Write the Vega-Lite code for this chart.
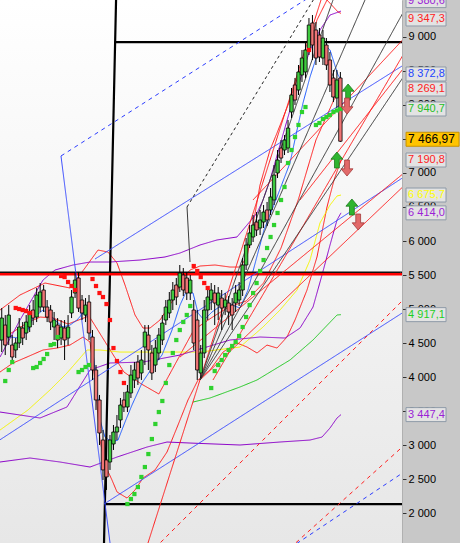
{
"$schema":"https://vega.github.io/schema/vega-lite/v6.json",
"width":402,"height":543,"padding":{"left":0,"top":0,"right":58,"bottom":0},"autosize":{"type":"none"},
"background":"#c8c8c8",
"config":{"view":{"stroke":null},"font":"Liberation Sans","scale":{"continuousPadding":0}},
"resolve":{"axis":{"y":"independent","x":"independent"}},
"datasets":{
"candles":[
{"i":0,"o":4544,"h":5014,"l":4367,"c":4867},{"i":1,"o":4764,"h":4911,"l":4323,"c":4470},{"i":2,"o":4588,"h":5058,"l":4470,"c":4911},{"i":3,"o":4470,"h":4617,"l":4220,"c":4294},{"i":4,"o":4397,"h":4573,"l":4279,"c":4500},{"i":5,"o":4500,"h":4867,"l":4426,"c":4735},{"i":6,"o":4720,"h":4808,"l":4470,"c":4573},{"i":7,"o":4647,"h":4911,"l":4544,"c":4808},{"i":8,"o":4735,"h":5058,"l":4661,"c":4941},{"i":9,"o":4985,"h":5132,"l":4764,"c":4867},
{"i":10,"o":4882,"h":5308,"l":4808,"c":5206},{"i":11,"o":5029,"h":5382,"l":4956,"c":5250},{"i":12,"o":5279,"h":5353,"l":4956,"c":5029},{"i":13,"o":5029,"h":5132,"l":4808,"c":4882},{"i":14,"o":4985,"h":5058,"l":4691,"c":4808},{"i":15,"o":4735,"h":4956,"l":4544,"c":4838},{"i":16,"o":4764,"h":4867,"l":4426,"c":4544},{"i":17,"o":4573,"h":4838,"l":4470,"c":4735},{"i":18,"o":4720,"h":4838,"l":4250,"c":4544},{"i":19,"o":4573,"h":4911,"l":4470,"c":4735},
{"i":20,"o":4941,"h":5279,"l":4867,"c":5176},{"i":21,"o":5235,"h":5544,"l":5161,"c":5426},{"i":22,"o":5456,"h":5544,"l":4956,"c":5014},{"i":23,"o":5132,"h":5206,"l":4838,"c":4941},{"i":24,"o":4911,"h":5161,"l":4808,"c":5058},{"i":25,"o":5103,"h":5206,"l":4544,"c":4647},{"i":26,"o":4588,"h":4691,"l":3956,"c":4103},{"i":27,"o":4103,"h":4176,"l":3515,"c":3662},{"i":28,"o":3662,"h":3736,"l":3000,"c":3177},{"i":29,"o":3074,"h":3221,"l":2486,"c":2633},
{"i":30,"o":2780,"h":2927,"l":2339,"c":2530},{"i":31,"o":2750,"h":3147,"l":2633,"c":3074},{"i":32,"o":3015,"h":3294,"l":2927,"c":3191},{"i":33,"o":3191,"h":3441,"l":3074,"c":3265},{"i":34,"o":3368,"h":3691,"l":3250,"c":3588},{"i":35,"o":3662,"h":3780,"l":3485,"c":3559},{"i":36,"o":3559,"h":3883,"l":3485,"c":3780},{"i":37,"o":3765,"h":4176,"l":3691,"c":4029},{"i":38,"o":3956,"h":4220,"l":3838,"c":4103},{"i":39,"o":4220,"h":4323,"l":3883,"c":3985},
{"i":40,"o":4059,"h":4397,"l":3956,"c":4250},{"i":41,"o":4441,"h":4764,"l":4176,"c":4661},{"i":42,"o":4617,"h":4764,"l":4103,"c":4397},{"i":43,"o":4353,"h":4470,"l":3956,"c":4059},{"i":44,"o":4176,"h":4544,"l":4073,"c":4426},{"i":45,"o":4353,"h":4720,"l":4250,"c":4617},{"i":46,"o":4544,"h":4911,"l":4470,"c":4794},{"i":47,"o":4838,"h":5132,"l":4764,"c":5029},{"i":48,"o":4941,"h":5250,"l":4867,"c":5132},{"i":49,"o":5132,"h":5397,"l":4985,"c":5279},
{"i":50,"o":5353,"h":5456,"l":5058,"c":5176},{"i":51,"o":5323,"h":5647,"l":5250,"c":5529},{"i":52,"o":5500,"h":5603,"l":5191,"c":5279},{"i":53,"o":5456,"h":5544,"l":5132,"c":5235},{"i":54,"o":5235,"h":5500,"l":5132,"c":5426},{"i":55,"o":4985,"h":5132,"l":4397,"c":4500},{"i":56,"o":4838,"h":4985,"l":3956,"c":4103},{"i":57,"o":4059,"h":4470,"l":3985,"c":4353},{"i":58,"o":4353,"h":5132,"l":4279,"c":4985},{"i":59,"o":4985,"h":5308,"l":4838,"c":5176},
{"i":60,"o":5132,"h":5382,"l":4985,"c":5279},{"i":61,"o":5235,"h":5353,"l":4764,"c":5088},{"i":62,"o":5058,"h":5323,"l":4838,"c":5235},{"i":63,"o":5161,"h":5279,"l":4691,"c":5014},{"i":64,"o":5029,"h":5235,"l":4911,"c":5132},{"i":65,"o":5088,"h":5191,"l":4764,"c":4956},{"i":66,"o":5058,"h":5161,"l":4691,"c":4911},{"i":67,"o":5088,"h":5353,"l":4956,"c":5235},{"i":68,"o":5132,"h":5397,"l":5044,"c":5279},{"i":69,"o":5279,"h":5750,"l":5191,"c":5647},
{"i":70,"o":5647,"h":6044,"l":5573,"c":5941},{"i":71,"o":5941,"h":6235,"l":5897,"c":6118},{"i":72,"o":6059,"h":6382,"l":5985,"c":6235},{"i":73,"o":6279,"h":6426,"l":6074,"c":6162},{"i":74,"o":6191,"h":6456,"l":6088,"c":6309},{"i":75,"o":6279,"h":6529,"l":6191,"c":6426},{"i":76,"o":6456,"h":6574,"l":6220,"c":6309},{"i":77,"o":6456,"h":6779,"l":6382,"c":6647},{"i":78,"o":6603,"h":7117,"l":6529,"c":6970},{"i":79,"o":7000,"h":7338,"l":6926,"c":7191},
{"i":80,"o":7367,"h":7485,"l":7147,"c":7220},{"i":81,"o":7338,"h":7558,"l":7264,"c":7485},{"i":82,"o":7367,"h":7779,"l":7294,"c":7661},{"i":83,"o":7897,"h":8250,"l":7808,"c":8147},{"i":84,"o":8294,"h":8397,"l":8000,"c":8073},{"i":85,"o":8220,"h":8588,"l":8147,"c":8485},{"i":86,"o":8441,"h":8809,"l":8338,"c":8691},{"i":87,"o":8485,"h":8926,"l":8397,"c":8809},{"i":88,"o":8809,"h":9279,"l":8735,"c":9176},{"i":89,"o":9206,"h":9323,"l":8662,"c":8882},
{"i":90,"o":9103,"h":9221,"l":8588,"c":8691},{"i":91,"o":9029,"h":9132,"l":8632,"c":8706},{"i":92,"o":8691,"h":9103,"l":8588,"c":8985},{"i":93,"o":8882,"h":8985,"l":8515,"c":8588},{"i":94,"o":8662,"h":8779,"l":8191,"c":8294},{"i":95,"o":8397,"h":8515,"l":8044,"c":8117},{"i":96,"o":8103,"h":8515,"l":7956,"c":8368},{"i":97,"o":8397,"h":8485,"l":7456,"c":7467}
],
"lines":[
{"s":"bbu","g":"red","i":-0.5,"v":4985},{"s":"bbu","g":"red","i":5.23,"v":5206},{"s":"bbu","g":"red","i":12.39,"v":5382},{"s":"bbu","g":"red","i":19.55,"v":5309},{"s":"bbu","g":"red","i":23.85,"v":5603},{"s":"bbu","g":"red","i":27.57,"v":5867},{"s":"bbu","g":"red","i":30.44,"v":5838},{"s":"bbu","g":"red","i":33.02,"v":5676},{"s":"bbu","g":"red","i":35.31,"v":5353},{"s":"bbu","g":"red","i":38.17,"v":4912},{"s":"bbu","g":"red","i":40.46,"v":4720},{"s":"bbu","g":"red","i":42.47,"v":4720},{"s":"bbu","g":"red","i":45.33,"v":4838},{"s":"bbu","g":"red","i":49.06,"v":5132},{"s":"bbu","g":"red","i":51.63,"v":5425},{"s":"bbu","g":"red","i":53.93,"v":5573},{"s":"bbu","g":"red","i":56.79,"v":5632},{"s":"bbu","g":"red","i":61.09,"v":5647},{"s":"bbu","g":"red","i":65.38,"v":5617},{"s":"bbu","g":"red","i":68.25,"v":5617},{"s":"bbu","g":"red","i":70.25,"v":5765},{"s":"bbu","g":"red","i":71.97,"v":6235},{"s":"bbu","g":"red","i":73.98,"v":6823},{"s":"bbu","g":"red","i":76.84,"v":7338},{"s":"bbu","g":"red","i":78.85,"v":7588},{"s":"bbu","g":"red","i":82.57,"v":8073},{"s":"bbu","g":"red","i":85.44,"v":8515},{"s":"bbu","g":"red","i":88.3,"v":8912},{"s":"bbu","g":"red","i":90.3,"v":9250},{"s":"bbu","g":"red","i":93.17,"v":9544},{"s":"bbu","g":"red","i":96.32,"v":9368},{"s":"bbu","g":"red","i":97.18,"v":9347},
{"s":"bbm","g":"red","i":-0.5,"v":4544},{"s":"bbm","g":"red","i":3.22,"v":4662},{"s":"bbm","g":"red","i":7.23,"v":4794},{"s":"bbm","g":"red","i":10.96,"v":4882},{"s":"bbm","g":"red","i":14.68,"v":4868},{"s":"bbm","g":"red","i":19,"v":4779},{"s":"bbm","g":"red","i":25,"v":4897},{"s":"bbm","g":"red","i":30,"v":4485},{"s":"bbm","g":"red","i":35,"v":4073},{"s":"bbm","g":"red","i":40,"v":3897},{"s":"bbm","g":"red","i":45,"v":3750},{"s":"bbm","g":"red","i":50,"v":4220},{"s":"bbm","g":"red","i":55,"v":4691},{"s":"bbm","g":"red","i":60,"v":4868},{"s":"bbm","g":"red","i":65,"v":5029},{"s":"bbm","g":"red","i":70,"v":5117},{"s":"bbm","g":"red","i":75,"v":5382},{"s":"bbm","g":"red","i":80,"v":5897},{"s":"bbm","g":"red","i":85,"v":6617},{"s":"bbm","g":"red","i":90,"v":7485},{"s":"bbm","g":"red","i":95,"v":8059},{"s":"bbm","g":"red","i":97.18,"v":8269},
{"s":"bbl","g":"red","i":-0.5,"v":4073},{"s":"bbl","g":"red","i":3.22,"v":4206},{"s":"bbl","g":"red","i":7.23,"v":4294},{"s":"bbl","g":"red","i":11.82,"v":4397},{"s":"bbl","g":"red","i":15.83,"v":4426},{"s":"bbl","g":"red","i":19.55,"v":4470},{"s":"bbl","g":"red","i":23.28,"v":4588},{"s":"bbl","g":"red","i":25.28,"v":4515},{"s":"bbl","g":"red","i":26.71,"v":3956},{"s":"bbl","g":"red","i":28.15,"v":3073},{"s":"bbl","g":"red","i":29.58,"v":2706},{"s":"bbl","g":"red","i":31.58,"v":2485},{"s":"bbl","g":"red","i":33.02,"v":2309},{"s":"bbl","g":"red","i":35.88,"v":2220},{"s":"bbl","g":"red","i":38.17,"v":2338},{"s":"bbl","g":"red","i":40.46,"v":2514},{"s":"bbl","g":"red","i":43.9,"v":2632},{"s":"bbl","g":"red","i":47.34,"v":2897},{"s":"bbl","g":"red","i":50.49,"v":3294},{"s":"bbl","g":"red","i":53.35,"v":3662},{"s":"bbl","g":"red","i":56.22,"v":3956},{"s":"bbl","g":"red","i":59.65,"v":4103},{"s":"bbl","g":"red","i":63.38,"v":4367},{"s":"bbl","g":"red","i":67.39,"v":4500},{"s":"bbl","g":"red","i":70.25,"v":4441},{"s":"bbl","g":"red","i":73.12,"v":4353},{"s":"bbl","g":"red","i":75.98,"v":4470},{"s":"bbl","g":"red","i":78.85,"v":4426},{"s":"bbl","g":"red","i":81.71,"v":4588},{"s":"bbl","g":"red","i":84,"v":4838},{"s":"bbl","g":"red","i":87.44,"v":5279},{"s":"bbl","g":"red","i":90.3,"v":5765},{"s":"bbl","g":"red","i":93.17,"v":6500},{"s":"bbl","g":"red","i":95.18,"v":6897},{"s":"bbl","g":"red","i":97.18,"v":7191},
{"s":"yel","g":"yellow","i":-0.5,"v":3220},{"s":"yel","g":"yellow","i":7.52,"v":3515},{"s":"yel","g":"yellow","i":13.82,"v":3809},{"s":"yel","g":"yellow","i":18.69,"v":4059},{"s":"yel","g":"yellow","i":22.42,"v":4279},{"s":"yel","g":"yellow","i":24.42,"v":4397},{"s":"yel","g":"yellow","i":28.15,"v":4397},{"s":"yel","g":"yellow","i":33.87,"v":4367},{"s":"yel","g":"yellow","i":45.33,"v":4367},{"s":"yel","g":"yellow","i":56.79,"v":4367},{"s":"yel","g":"yellow","i":68.25,"v":4441},{"s":"yel","g":"yellow","i":74.84,"v":4735},{"s":"yel","g":"yellow","i":79.71,"v":4985},{"s":"yel","g":"yellow","i":84.58,"v":5279},{"s":"yel","g":"yellow","i":88.3,"v":5720},{"s":"yel","g":"yellow","i":91.16,"v":6265},{"s":"yel","g":"yellow","i":94.03,"v":6529},{"s":"yel","g":"yellow","i":96.04,"v":6662},{"s":"yel","g":"yellow","i":97.18,"v":6676},
{"s":"grn","g":"green","i":54.79,"v":3632},{"s":"grn","g":"green","i":59.65,"v":3691},{"s":"grn","g":"green","i":68.25,"v":3853},{"s":"grn","g":"green","i":73.12,"v":3956},{"s":"grn","g":"green","i":82.57,"v":4250},{"s":"grn","g":"green","i":89.16,"v":4544},{"s":"grn","g":"green","i":96.04,"v":4912},{"s":"grn","g":"green","i":97.18,"v":4917},
{"s":"pu","g":"purple","i":-0.5,"v":4294},{"s":"pu","g":"purple","i":5.23,"v":4838},{"s":"pu","g":"purple","i":11.82,"v":5426},{"s":"pu","g":"purple","i":15.25,"v":5573},{"s":"pu","g":"purple","i":20.41,"v":5647},{"s":"pu","g":"purple","i":25.28,"v":5691},{"s":"pu","g":"purple","i":31.01,"v":5691},{"s":"pu","g":"purple","i":39.6,"v":5720},{"s":"pu","g":"purple","i":46.76,"v":5765},{"s":"pu","g":"purple","i":51.06,"v":5823},{"s":"pu","g":"purple","i":56.79,"v":5941},{"s":"pu","g":"purple","i":61.66,"v":6015},{"s":"pu","g":"purple","i":67.39,"v":6059},{"s":"pu","g":"purple","i":73.12,"v":6412},{"s":"pu","g":"purple","i":74.84,"v":6603},{"s":"pu","g":"purple","i":76.84,"v":6897},{"s":"pu","g":"purple","i":79.71,"v":7412},{"s":"pu","g":"purple","i":82.57,"v":7926},{"s":"pu","g":"purple","i":85.44,"v":8368},{"s":"pu","g":"purple","i":88.3,"v":8809},{"s":"pu","g":"purple","i":91.16,"v":9103},{"s":"pu","g":"purple","i":94.03,"v":9323},{"s":"pu","g":"purple","i":97.18,"v":9381},
{"s":"pm","g":"purple","i":-0.5,"v":3485},{"s":"pm","g":"purple","i":10.96,"v":3397},{"s":"pm","g":"purple","i":18.69,"v":3559},{"s":"pm","g":"purple","i":25.28,"v":4103},{"s":"pm","g":"purple","i":31.01,"v":4206},{"s":"pm","g":"purple","i":40.46,"v":4220},{"s":"pm","g":"purple","i":51.06,"v":4323},{"s":"pm","g":"purple","i":65.38,"v":4544},{"s":"pm","g":"purple","i":73.98,"v":4588},{"s":"pm","g":"purple","i":81.14,"v":4573},{"s":"pm","g":"purple","i":85.44,"v":4720},{"s":"pm","g":"purple","i":89.16,"v":5029},{"s":"pm","g":"purple","i":91.74,"v":5500},{"s":"pm","g":"purple","i":94.03,"v":5941},{"s":"pm","g":"purple","i":96.04,"v":6309},{"s":"pm","g":"purple","i":97.18,"v":6414},
{"s":"pl","g":"purple","i":-0.5,"v":2750},{"s":"pl","g":"purple","i":8.09,"v":2809},{"s":"pl","g":"purple","i":16.69,"v":2750},{"s":"pl","g":"purple","i":25.28,"v":2676},{"s":"pl","g":"purple","i":33.02,"v":2823},{"s":"pl","g":"purple","i":41.61,"v":2970},{"s":"pl","g":"purple","i":47.34,"v":3044},{"s":"pl","g":"purple","i":53.93,"v":3029},{"s":"pl","g":"purple","i":68.25,"v":3000},{"s":"pl","g":"purple","i":79.71,"v":3044},{"s":"pl","g":"purple","i":88.3,"v":3073},{"s":"pl","g":"purple","i":91.74,"v":3117},{"s":"pl","g":"purple","i":94.03,"v":3250},{"s":"pl","g":"purple","i":96.04,"v":3397},{"s":"pl","g":"purple","i":97.18,"v":3447},
{"s":"bma","g":"bma","i":-0.5,"v":4544},{"s":"bma","g":"bma","i":2.36,"v":4588},{"s":"bma","g":"bma","i":5.23,"v":4573},{"s":"bma","g":"bma","i":7.23,"v":4662},{"s":"bma","g":"bma","i":8.95,"v":4868},{"s":"bma","g":"bma","i":11.82,"v":4985},{"s":"bma","g":"bma","i":13.82,"v":4912},{"s":"bma","g":"bma","i":15.83,"v":4809},{"s":"bma","g":"bma","i":17.55,"v":4735},{"s":"bma","g":"bma","i":19.55,"v":4764},{"s":"bma","g":"bma","i":21.56,"v":4838},{"s":"bma","g":"bma","i":23.28,"v":4941},{"s":"bma","g":"bma","i":24.71,"v":4882},{"s":"bma","g":"bma","i":25.85,"v":4500},{"s":"bma","g":"bma","i":26.71,"v":4103},{"s":"bma","g":"bma","i":28.15,"v":3368},{"s":"bma","g":"bma","i":29.58,"v":3117},{"s":"bma","g":"bma","i":31.58,"v":3044},{"s":"bma","g":"bma","i":33.3,"v":3073},{"s":"bma","g":"bma","i":35.31,"v":3338},{"s":"bma","g":"bma","i":37.31,"v":3588},{"s":"bma","g":"bma","i":40.18,"v":3912},{"s":"bma","g":"bma","i":43.04,"v":4132},{"s":"bma","g":"bma","i":45.9,"v":4323},{"s":"bma","g":"bma","i":48.77,"v":4691},{"s":"bma","g":"bma","i":51.06,"v":5058},{"s":"bma","g":"bma","i":52.78,"v":5250},{"s":"bma","g":"bma","i":54.79,"v":5235},{"s":"bma","g":"bma","i":56.22,"v":4941},{"s":"bma","g":"bma","i":57.94,"v":4838},{"s":"bma","g":"bma","i":60.23,"v":4956},{"s":"bma","g":"bma","i":63.09,"v":5058},{"s":"bma","g":"bma","i":65.96,"v":5058},{"s":"bma","g":"bma","i":68.25,"v":5015},{"s":"bma","g":"bma","i":70.54,"v":5279},{"s":"bma","g":"bma","i":72.83,"v":5720},{"s":"bma","g":"bma","i":75.12,"v":6162},{"s":"bma","g":"bma","i":78.85,"v":6647},{"s":"bma","g":"bma","i":82.57,"v":7147},{"s":"bma","g":"bma","i":84.58,"v":7632},{"s":"bma","g":"bma","i":86.29,"v":8029},{"s":"bma","g":"bma","i":88.3,"v":8412},{"s":"bma","g":"bma","i":90.59,"v":8779},{"s":"bma","g":"bma","i":92.6,"v":8882},{"s":"bma","g":"bma","i":94.03,"v":8809},{"s":"bma","g":"bma","i":96.32,"v":8441},{"s":"bma","g":"bma","i":97.18,"v":8373},
{"s":"vk","g":"blackthick","i":32.81,"v":9691},{"s":"vk","g":"blackthick","i":29.23,"v":1412},
{"s":"htop","g":"blackthick","i":32.4,"v":8926},{"s":"htop","g":"blackthick","i":117,"v":8926},
{"s":"hbot","g":"blackthick","i":29.4,"v":2132},{"s":"hbot","g":"blackthick","i":117,"v":2132},
{"s":"hredk","g":"blackmid","i":-1,"v":5540},{"s":"hredk","g":"blackmid","i":117,"v":5540},
{"s":"hred","g":"redthick","i":-1,"v":5512},{"s":"hred","g":"redthick","i":117,"v":5512},
{"s":"bd1","g":"bluedash","i":16.97,"v":7250},{"s":"bd1","g":"bluedash","i":91.34,"v":9691},
{"s":"bs1","g":"blue","i":16.97,"v":7250},{"s":"bs1","g":"blue","i":31.38,"v":1412},
{"s":"b3","g":"blue","i":-1.93,"v":3029},{"s":"b3","g":"blue","i":116.95,"v":7000},
{"s":"b4","g":"blue","i":26.71,"v":5735},{"s":"b4","g":"blue","i":116.95,"v":8647},
{"s":"b5","g":"blue","i":29.29,"v":2132},{"s":"b5","g":"blue","i":116.95,"v":5015},
{"s":"bd2","g":"bluedash","i":82.57,"v":1485},{"s":"bd2","g":"bluedash","i":116.95,"v":2662},
{"s":"rd1","g":"reddash","i":43.9,"v":1485},{"s":"rd1","g":"reddash","i":116.95,"v":5235},
{"s":"rd2","g":"reddash","i":82.57,"v":1485},{"s":"rd2","g":"reddash","i":116.95,"v":3073},
{"s":"ra","g":"red","i":41.89,"v":1559},{"s":"ra","g":"red","i":91.45,"v":9544},
{"s":"rb","g":"red","i":56.79,"v":3956},{"s":"rb","g":"red","i":116.95,"v":6897},
{"s":"rc","g":"red","i":51.06,"v":4294},{"s":"rc","g":"red","i":116.95,"v":7073},
{"s":"rdd","g":"red","i":60.51,"v":3956},{"s":"rdd","g":"red","i":116.95,"v":8912},
{"s":"re","g":"red","i":71.97,"v":6603},{"s":"re","g":"red","i":116.95,"v":9073},
{"s":"rf","g":"red","i":85.44,"v":6603},{"s":"rf","g":"red","i":116.95,"v":8662},
{"s":"ka","g":"black","i":56.79,"v":3956},{"s":"ka","g":"black","i":94.89,"v":9544},
{"s":"kb","g":"black","i":56.79,"v":3956},{"s":"kb","g":"black","i":104.05,"v":9544},
{"s":"kc","g":"black","i":56.79,"v":3956},{"s":"kc","g":"black","i":116.95,"v":9544},
{"s":"kd","g":"black","i":56.79,"v":3956},{"s":"kd","g":"black","i":116.95,"v":8559},
{"s":"kdash","g":"blackdash","i":53.07,"v":6500},{"s":"kdash","g":"blackdash","i":91.16,"v":9706},
{"s":"kv","g":"black","i":53.07,"v":6500},{"s":"kv","g":"black","i":53.93,"v":5691}
],
"dots":[
{"i":1,"v":3941,"k":"g"},{"i":2,"v":4103,"k":"g"},{"i":3,"v":4220,"k":"g"},
{"i":4,"v":5015,"k":"r"},{"i":5,"v":5000,"k":"r"},{"i":6,"v":4985,"k":"r"},{"i":7,"v":4970,"k":"r"},{"i":8,"v":4941,"k":"r"},
{"i":9,"v":4132,"k":"g"},{"i":10,"v":4147,"k":"g"},{"i":11,"v":4206,"k":"g"},{"i":12,"v":4265,"k":"g"},{"i":13,"v":4338,"k":"g"},{"i":14,"v":4470,"k":"g"},{"i":15,"v":4485,"k":"g"},{"i":16,"v":4588,"k":"g"},
{"i":17,"v":5485,"k":"r"},{"i":18,"v":5470,"k":"r"},{"i":19,"v":5397,"k":"r"},{"i":20,"v":5338,"k":"r"},{"i":21,"v":5279,"k":"r"},
{"i":22,"v":4073,"k":"g"},{"i":23,"v":4103,"k":"g"},{"i":24,"v":4147,"k":"g"},{"i":25,"v":4176,"k":"g"},
{"i":26,"v":5441,"k":"r"},{"i":27,"v":5338,"k":"r"},{"i":28,"v":5235,"k":"r"},{"i":29,"v":5176,"k":"r"},{"i":30,"v":5073,"k":"r"},{"i":31,"v":4838,"k":"r"},{"i":32,"v":4426,"k":"r"},{"i":33,"v":4235,"k":"r"},{"i":34,"v":4073,"k":"r"},{"i":35,"v":3912,"k":"r"},
{"i":36,"v":2132,"k":"g"},{"i":37,"v":2206,"k":"g"},{"i":38,"v":2279,"k":"g"},{"i":39,"v":2382,"k":"g"},{"i":40,"v":2530,"k":"g"},{"i":41,"v":2676,"k":"g"},{"i":42,"v":2867,"k":"g"},{"i":43,"v":3088,"k":"g"},{"i":44,"v":3309,"k":"g"},{"i":45,"v":3485,"k":"g"},{"i":46,"v":3647,"k":"g"},{"i":47,"v":3912,"k":"g"},{"i":48,"v":4176,"k":"g"},{"i":49,"v":4353,"k":"g"},{"i":50,"v":4544,"k":"g"},{"i":51,"v":4691,"k":"g"},{"i":52,"v":4809,"k":"g"},{"i":53,"v":4912,"k":"g"},{"i":54,"v":5044,"k":"g"},
{"i":55,"v":5632,"k":"r"},{"i":56,"v":5559,"k":"r"},{"i":57,"v":5470,"k":"r"},{"i":58,"v":5382,"k":"r"},{"i":59,"v":5309,"k":"r"},
{"i":60,"v":3838,"k":"g"},{"i":61,"v":4088,"k":"g"},{"i":62,"v":4176,"k":"g"},{"i":63,"v":4250,"k":"g"},{"i":64,"v":4323,"k":"g"},{"i":65,"v":4397,"k":"g"},{"i":66,"v":4456,"k":"g"},{"i":67,"v":4515,"k":"g"},{"i":68,"v":4603,"k":"g"},{"i":69,"v":4735,"k":"g"},{"i":70,"v":4882,"k":"g"},{"i":71,"v":5058,"k":"g"},{"i":72,"v":5235,"k":"g"},{"i":73,"v":5382,"k":"g"},{"i":74,"v":5559,"k":"g"},{"i":75,"v":5720,"k":"g"},{"i":76,"v":5897,"k":"g"},{"i":77,"v":6059,"k":"g"},{"i":78,"v":6235,"k":"g"},{"i":79,"v":6412,"k":"g"},{"i":80,"v":6603,"k":"g"},{"i":81,"v":6794,"k":"g"},{"i":82,"v":7147,"k":"g"},{"i":83,"v":7338,"k":"g"},{"i":84,"v":7529,"k":"g"},{"i":85,"v":7706,"k":"g"},{"i":86,"v":7897,"k":"g"},{"i":87,"v":7970,"k":"g"},
{"i":88,"v":8809,"k":"r"},
{"i":90,"v":7706,"k":"g"},{"i":91,"v":7735,"k":"g"},{"i":92,"v":7794,"k":"g"},{"i":93,"v":7823,"k":"g"},{"i":94,"v":7853,"k":"g"},{"i":95,"v":7897,"k":"g"},{"i":96,"v":7920,"k":"g"},{"i":97,"v":7941,"k":"g"}
],
"arrows":[
{"i":99.2,"v":8191,"d":"up"},{"i":98.9,"v":7985,"d":"down"},{"i":96.0,"v":7191,"d":"up"},{"i":98.9,"v":7073,"d":"down"},{"i":100.3,"v":6500,"d":"up"},{"i":102.1,"v":6279,"d":"down"}
],
"labels":[
{"at":9535,"t":"9 380,6","s":"pu"},{"at":9265,"t":"9 347,3","s":"bbu"},{"at":8456,"t":"8 372,8","s":"bma"},{"at":8235,"t":"8 269,1","s":"bbm"},{"at":7941,"t":"7 940,7","s":"sar"},{"at":7191,"t":"7 190,8","s":"bbl"},{"at":6676,"t":"6 675,7","s":"yel"},{"at":6414,"t":"6 414,0","s":"pm"},{"at":4917,"t":"4 917,1","s":"grn"},{"at":3447,"t":"3 447,4","s":"pl"}
],
"price":[{"at":7496,"t":"7 466,97"}],
"ticks":[{"v":2000},{"v":2500},{"v":3000},{"v":3500},{"v":4000},{"v":4500},{"v":5000},{"v":5500},{"v":6000},{"v":6500},{"v":7000},{"v":7500},{"v":8000},{"v":8500},{"v":9000}]
},
"layer":[
{"data":{"name":"ticks"},
 "mark":{"type":"rect","color":{"gradient":"linear","x1":0,"y1":0,"x2":0,"y2":1,"stops":[{"offset":0,"color":"#ffffff"},{"offset":1,"color":"#e7e7e7"}]}},
 "encoding":{
  "x":{"datum":-0.5,"type":"quantitative","scale":{"domain":[-0.5,114.65],"nice":false,"zero":false,"padding":0},"axis":null},
  "x2":{"datum":114.65},
  "y":{"datum":9544,"type":"quantitative","scale":{"domain":[1559,9544],"nice":false,"zero":false,"padding":0},"axis":null},
  "y2":{"datum":1559}}},
{"data":{"name":"ticks"},
 "mark":{"type":"tick","opacity":0},
 "encoding":{
  "y":{"field":"v","type":"quantitative","scale":{"domain":[1559,9544],"nice":false,"zero":false,"padding":0},
   "axis":{"orient":"right","values":[2000,2500,3000,3500,4000,4500,5000,5500,6000,6500,7000,7500,8000,8500,9000],"labelExpr":"replace(format(datum.value, ','), ',', ' ')","grid":false,"title":null,"tickSize":4,"tickColor":"#333333","labelColor":"#000000","labelFont":"Liberation Sans","labelFontSize":11,"labelPadding":2,"domainColor":"#b0b0b0","labelBound":false,"labelOverlap":false,"labelFlush":false,"zindex":0}}}},
{"data":{"name":"lines"},
 "mark":{"type":"line","clip":true,"interpolate":"linear"},
 "encoding":{
  "x":{"field":"i","type":"quantitative","scale":{"domain":[-0.5,114.65],"nice":false,"zero":false,"padding":0},"axis":null},
  "y":{"field":"v","type":"quantitative","scale":{"domain":[1559,9544],"nice":false,"zero":false,"padding":0},"axis":null},
  "detail":{"field":"s"},
  "stroke":{"field":"g","type":"nominal","legend":null,"scale":{"domain":["red","redthick","reddash","blue","bluedash","bma","black","blackthick","blackmid","blackdash","purple","yellow","green"],"range":["#ff1a1a","#ff0000","#ff2020","#3a4cff","#2b3cff","#1e5bff","#383838","#000000","#111111","#202020","#8b00c9","#f5f500","#1ec81e"]}},
  "strokeWidth":{"condition":[{"test":"datum.g == 'blackthick'","value":2.2},{"test":"datum.g == 'redthick'","value":2.5},{"test":"datum.g == 'blackmid'","value":1.5}],"value":1},
  "strokeDash":{"field":"g","type":"nominal","legend":null,"scale":{"domain":["red","redthick","reddash","blue","bluedash","bma","black","blackthick","blackmid","blackdash","purple","yellow","green"],"range":[[1,0],[1,0],[4,4],[1,0],[4,4],[1,0],[1,0],[1,0],[1,0],[3,3],[1,0],[1,0],[1,0]]}}}},
{"data":{"name":"candles"},
 "mark":{"type":"rule","color":"#000000","strokeWidth":1,"clip":true},
 "encoding":{
  "x":{"field":"i","type":"quantitative","scale":{"domain":[-0.5,114.65],"nice":false,"zero":false,"padding":0},"axis":null},
  "y":{"field":"h","type":"quantitative","scale":{"domain":[1559,9544],"nice":false,"zero":false,"padding":0},"axis":null},
  "y2":{"field":"l"}}},
{"data":{"name":"candles"},
 "mark":{"type":"bar","size":3.4,"stroke":"#000000","strokeWidth":0.8,"clip":true},
 "encoding":{
  "x":{"field":"i","type":"quantitative","scale":{"domain":[-0.5,114.65],"nice":false,"zero":false,"padding":0},"axis":null},
  "y":{"field":"o","type":"quantitative","scale":{"domain":[1559,9544],"nice":false,"zero":false,"padding":0},"axis":null},
  "y2":{"field":"c"},
  "fill":{"condition":{"test":"datum.c >= datum.o","value":"#3fc93f"},"value":"#f07575"}}},
{"data":{"name":"dots"},
 "mark":{"type":"point","shape":"square","filled":true,"size":18,"opacity":1,"clip":true},
 "encoding":{
  "x":{"field":"i","type":"quantitative","scale":{"domain":[-0.5,114.65],"nice":false,"zero":false,"padding":0},"axis":null},
  "y":{"field":"v","type":"quantitative","scale":{"domain":[1559,9544],"nice":false,"zero":false,"padding":0},"axis":null},
  "fill":{"condition":{"test":"datum.k == 'g'","value":"#2ed12e"},"value":"#ff1010"}}},
{"data":{"name":"arrows"},
 "mark":{"type":"point","filled":true,"size":256,"opacity":1,"strokeWidth":0.8},
 "encoding":{
  "x":{"field":"i","type":"quantitative","scale":{"domain":[-0.5,114.65],"nice":false,"zero":false,"padding":0},"axis":null},
  "y":{"field":"v","type":"quantitative","scale":{"domain":[1559,9544],"nice":false,"zero":false,"padding":0},"axis":null},
  "shape":{"field":"d","type":"nominal","legend":null,"scale":{"domain":["up","down"],"range":["M0,-1L0.75,-0.1L0.3,-0.1L0.3,1L-0.3,1L-0.3,-0.1L-0.75,-0.1Z","M0,1L0.75,0.1L0.3,0.1L0.3,-1L-0.3,-1L-0.3,0.1L-0.75,0.1Z"]}},
  "fill":{"condition":{"test":"datum.d == 'up'","value":"#2fb52f"},"value":"#e26a6a"},
  "stroke":{"condition":{"test":"datum.d == 'up'","value":"#1d7a1d"},"value":"#a33a3a"}}},
{"data":{"name":"labels"},
 "mark":{"type":"point","filled":true,"size":1600,"shape":"M-1,-0.35L1,-0.35L1,0.35L-1,0.35Z","fill":"#e3e3e3","stroke":"#8e9aa8","strokeWidth":1,"opacity":1},
 "encoding":{
  "x":{"datum":121.53,"type":"quantitative","scale":{"domain":[-0.5,114.65],"nice":false,"zero":false,"padding":0},"axis":null},
  "y":{"field":"at","type":"quantitative","scale":{"domain":[1559,9544],"nice":false,"zero":false,"padding":0},"axis":null}}},
{"data":{"name":"labels"},
 "mark":{"type":"text","align":"left","baseline":"middle","fontSize":11,"font":"Liberation Sans"},
 "encoding":{
  "x":{"datum":116.4,"type":"quantitative","scale":{"domain":[-0.5,114.65],"nice":false,"zero":false,"padding":0},"axis":null},
  "y":{"field":"at","type":"quantitative","scale":{"domain":[1559,9544],"nice":false,"zero":false,"padding":0},"axis":null},
  "text":{"field":"t"},
  "fill":{"field":"s","type":"nominal","legend":null,"scale":{"domain":["pu","bbu","bma","bbm","sar","bbl","yel","pm","grn","pl"],"range":["#9a22d6","#ff2222","#2244ff","#ff2222","#1fbf1f","#ff2222","#ffff00","#9a22d6","#1fcf1f","#9a22d6"]}}}},
{"data":{"name":"price"},
 "mark":{"type":"point","filled":true,"size":2809,"shape":"M-1,-0.264L1,-0.264L1,0.264L-1,0.264Z","fill":"#ffc400","stroke":"#c89200","strokeWidth":1,"opacity":1},
 "encoding":{
  "x":{"datum":123.4,"type":"quantitative","scale":{"domain":[-0.5,114.65],"nice":false,"zero":false,"padding":0},"axis":null},
  "y":{"field":"at","type":"quantitative","scale":{"domain":[1559,9544],"nice":false,"zero":false,"padding":0},"axis":null}}},
{"data":{"name":"price"},
 "mark":{"type":"text","align":"left","baseline":"middle","fontSize":12,"font":"Liberation Sans","fill":"#000000"},
 "encoding":{
  "x":{"datum":116.4,"type":"quantitative","scale":{"domain":[-0.5,114.65],"nice":false,"zero":false,"padding":0},"axis":null},
  "y":{"field":"at","type":"quantitative","scale":{"domain":[1559,9544],"nice":false,"zero":false,"padding":0},"axis":null},
  "text":{"field":"t"}}}
]
}
